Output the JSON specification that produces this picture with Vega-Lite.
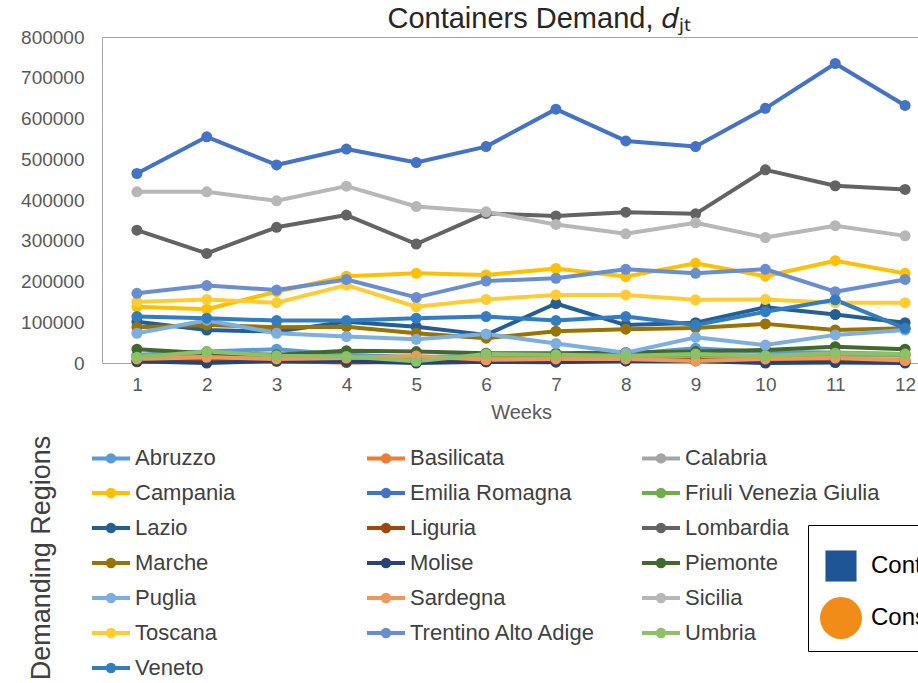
{
  "$schema": "https://vega.github.io/schema/vega-lite/v6.json",
  "width": 838,
  "height": 326,
  "autosize": {"type": "none"},
  "padding": {"left": 102, "top": 37, "right": 0, "bottom": 320},
  "background": "white",
  "config": {"font": "Liberation Sans", "view": {"stroke": "#A6A6A6", "strokeWidth": 1}},
  "title": {"text": "Containers Demand, 𝑑ⱼₜ", "fontSize": 29, "fontWeight": "normal", "color": "#262626", "offset": -6, "dx": 18},
  "datasets": {
    "demand": [
      {"region": "Abruzzo", "week": 1, "value": 20000}, {"region": "Abruzzo", "week": 2, "value": 28000}, {"region": "Abruzzo", "week": 3, "value": 34000}, {"region": "Abruzzo", "week": 4, "value": 20000}, {"region": "Abruzzo", "week": 5, "value": 15000}, {"region": "Abruzzo", "week": 6, "value": 18000}, {"region": "Abruzzo", "week": 7, "value": 15000}, {"region": "Abruzzo", "week": 8, "value": 22000}, {"region": "Abruzzo", "week": 9, "value": 36000}, {"region": "Abruzzo", "week": 10, "value": 27000}, {"region": "Abruzzo", "week": 11, "value": 26000}, {"region": "Abruzzo", "week": 12, "value": 22000},
      {"region": "Basilicata", "week": 1, "value": 6000}, {"region": "Basilicata", "week": 2, "value": 10000}, {"region": "Basilicata", "week": 3, "value": 8000}, {"region": "Basilicata", "week": 4, "value": 8000}, {"region": "Basilicata", "week": 5, "value": 8000}, {"region": "Basilicata", "week": 6, "value": 6000}, {"region": "Basilicata", "week": 7, "value": 8000}, {"region": "Basilicata", "week": 8, "value": 8000}, {"region": "Basilicata", "week": 9, "value": 10000}, {"region": "Basilicata", "week": 10, "value": 8000}, {"region": "Basilicata", "week": 11, "value": 10000}, {"region": "Basilicata", "week": 12, "value": 8000},
      {"region": "Calabria", "week": 1, "value": 18000}, {"region": "Calabria", "week": 2, "value": 22000}, {"region": "Calabria", "week": 3, "value": 15000}, {"region": "Calabria", "week": 4, "value": 15000}, {"region": "Calabria", "week": 5, "value": 10000}, {"region": "Calabria", "week": 6, "value": 18000}, {"region": "Calabria", "week": 7, "value": 17000}, {"region": "Calabria", "week": 8, "value": 15000}, {"region": "Calabria", "week": 9, "value": 18000}, {"region": "Calabria", "week": 10, "value": 15000}, {"region": "Calabria", "week": 11, "value": 20000}, {"region": "Calabria", "week": 12, "value": 18000},
      {"region": "Campania", "week": 1, "value": 138000}, {"region": "Campania", "week": 2, "value": 132000}, {"region": "Campania", "week": 3, "value": 175000}, {"region": "Campania", "week": 4, "value": 213000}, {"region": "Campania", "week": 5, "value": 220000}, {"region": "Campania", "week": 6, "value": 216000}, {"region": "Campania", "week": 7, "value": 232000}, {"region": "Campania", "week": 8, "value": 212000}, {"region": "Campania", "week": 9, "value": 245000}, {"region": "Campania", "week": 10, "value": 213000}, {"region": "Campania", "week": 11, "value": 251000}, {"region": "Campania", "week": 12, "value": 220000},
      {"region": "Emilia Romagna", "week": 1, "value": 465000}, {"region": "Emilia Romagna", "week": 2, "value": 555000}, {"region": "Emilia Romagna", "week": 3, "value": 486000}, {"region": "Emilia Romagna", "week": 4, "value": 525000}, {"region": "Emilia Romagna", "week": 5, "value": 492000}, {"region": "Emilia Romagna", "week": 6, "value": 531000}, {"region": "Emilia Romagna", "week": 7, "value": 623000}, {"region": "Emilia Romagna", "week": 8, "value": 545000}, {"region": "Emilia Romagna", "week": 9, "value": 531000}, {"region": "Emilia Romagna", "week": 10, "value": 625000}, {"region": "Emilia Romagna", "week": 11, "value": 735000}, {"region": "Emilia Romagna", "week": 12, "value": 632000},
      {"region": "Friuli Venezia Giulia", "week": 1, "value": 16000}, {"region": "Friuli Venezia Giulia", "week": 2, "value": 25000}, {"region": "Friuli Venezia Giulia", "week": 3, "value": 16000}, {"region": "Friuli Venezia Giulia", "week": 4, "value": 14000}, {"region": "Friuli Venezia Giulia", "week": 5, "value": 6000}, {"region": "Friuli Venezia Giulia", "week": 6, "value": 20000}, {"region": "Friuli Venezia Giulia", "week": 7, "value": 18000}, {"region": "Friuli Venezia Giulia", "week": 8, "value": 17000}, {"region": "Friuli Venezia Giulia", "week": 9, "value": 20000}, {"region": "Friuli Venezia Giulia", "week": 10, "value": 17000}, {"region": "Friuli Venezia Giulia", "week": 11, "value": 22000}, {"region": "Friuli Venezia Giulia", "week": 12, "value": 20000},
      {"region": "Lazio", "week": 1, "value": 101000}, {"region": "Lazio", "week": 2, "value": 81000}, {"region": "Lazio", "week": 3, "value": 77000}, {"region": "Lazio", "week": 4, "value": 101000}, {"region": "Lazio", "week": 5, "value": 89000}, {"region": "Lazio", "week": 6, "value": 69000}, {"region": "Lazio", "week": 7, "value": 146000}, {"region": "Lazio", "week": 8, "value": 93000}, {"region": "Lazio", "week": 9, "value": 99000}, {"region": "Lazio", "week": 10, "value": 137000}, {"region": "Lazio", "week": 11, "value": 119000}, {"region": "Lazio", "week": 12, "value": 99000},
      {"region": "Liguria", "week": 1, "value": 3000}, {"region": "Liguria", "week": 2, "value": 6000}, {"region": "Liguria", "week": 3, "value": 4000}, {"region": "Liguria", "week": 4, "value": 1000}, {"region": "Liguria", "week": 5, "value": 3000}, {"region": "Liguria", "week": 6, "value": 3000}, {"region": "Liguria", "week": 7, "value": 5000}, {"region": "Liguria", "week": 8, "value": 5000}, {"region": "Liguria", "week": 9, "value": 8000}, {"region": "Liguria", "week": 10, "value": 3000}, {"region": "Liguria", "week": 11, "value": 8000}, {"region": "Liguria", "week": 12, "value": 4000},
      {"region": "Lombardia", "week": 1, "value": 326000}, {"region": "Lombardia", "week": 2, "value": 269000}, {"region": "Lombardia", "week": 3, "value": 333000}, {"region": "Lombardia", "week": 4, "value": 363000}, {"region": "Lombardia", "week": 5, "value": 292000}, {"region": "Lombardia", "week": 6, "value": 367000}, {"region": "Lombardia", "week": 7, "value": 361000}, {"region": "Lombardia", "week": 8, "value": 370000}, {"region": "Lombardia", "week": 9, "value": 366000}, {"region": "Lombardia", "week": 10, "value": 474000}, {"region": "Lombardia", "week": 11, "value": 435000}, {"region": "Lombardia", "week": 12, "value": 426000},
      {"region": "Marche", "week": 1, "value": 88000}, {"region": "Marche", "week": 2, "value": 93000}, {"region": "Marche", "week": 3, "value": 88000}, {"region": "Marche", "week": 4, "value": 89000}, {"region": "Marche", "week": 5, "value": 73000}, {"region": "Marche", "week": 6, "value": 61000}, {"region": "Marche", "week": 7, "value": 78000}, {"region": "Marche", "week": 8, "value": 83000}, {"region": "Marche", "week": 9, "value": 86000}, {"region": "Marche", "week": 10, "value": 96000}, {"region": "Marche", "week": 11, "value": 81000}, {"region": "Marche", "week": 12, "value": 85000},
      {"region": "Molise", "week": 1, "value": 4000}, {"region": "Molise", "week": 2, "value": 0}, {"region": "Molise", "week": 3, "value": 5000}, {"region": "Molise", "week": 4, "value": 4000}, {"region": "Molise", "week": 5, "value": 0}, {"region": "Molise", "week": 6, "value": 3000}, {"region": "Molise", "week": 7, "value": 2000}, {"region": "Molise", "week": 8, "value": 5000}, {"region": "Molise", "week": 9, "value": 5000}, {"region": "Molise", "week": 10, "value": 0}, {"region": "Molise", "week": 11, "value": 1000}, {"region": "Molise", "week": 12, "value": 0},
      {"region": "Piemonte", "week": 1, "value": 34000}, {"region": "Piemonte", "week": 2, "value": 24000}, {"region": "Piemonte", "week": 3, "value": 20000}, {"region": "Piemonte", "week": 4, "value": 30000}, {"region": "Piemonte", "week": 5, "value": 28000}, {"region": "Piemonte", "week": 6, "value": 24000}, {"region": "Piemonte", "week": 7, "value": 24000}, {"region": "Piemonte", "week": 8, "value": 26000}, {"region": "Piemonte", "week": 9, "value": 28000}, {"region": "Piemonte", "week": 10, "value": 32000}, {"region": "Piemonte", "week": 11, "value": 40000}, {"region": "Piemonte", "week": 12, "value": 34000},
      {"region": "Puglia", "week": 1, "value": 73000}, {"region": "Puglia", "week": 2, "value": 105000}, {"region": "Puglia", "week": 3, "value": 73000}, {"region": "Puglia", "week": 4, "value": 65000}, {"region": "Puglia", "week": 5, "value": 58000}, {"region": "Puglia", "week": 6, "value": 71000}, {"region": "Puglia", "week": 7, "value": 48000}, {"region": "Puglia", "week": 8, "value": 25000}, {"region": "Puglia", "week": 9, "value": 63000}, {"region": "Puglia", "week": 10, "value": 44000}, {"region": "Puglia", "week": 11, "value": 69000}, {"region": "Puglia", "week": 12, "value": 81000},
      {"region": "Sardegna", "week": 1, "value": 10000}, {"region": "Sardegna", "week": 2, "value": 14000}, {"region": "Sardegna", "week": 3, "value": 10000}, {"region": "Sardegna", "week": 4, "value": 12000}, {"region": "Sardegna", "week": 5, "value": 17000}, {"region": "Sardegna", "week": 6, "value": 8000}, {"region": "Sardegna", "week": 7, "value": 10000}, {"region": "Sardegna", "week": 8, "value": 10000}, {"region": "Sardegna", "week": 9, "value": 5000}, {"region": "Sardegna", "week": 10, "value": 10000}, {"region": "Sardegna", "week": 11, "value": 12000}, {"region": "Sardegna", "week": 12, "value": 6000},
      {"region": "Sicilia", "week": 1, "value": 420000}, {"region": "Sicilia", "week": 2, "value": 420000}, {"region": "Sicilia", "week": 3, "value": 398000}, {"region": "Sicilia", "week": 4, "value": 434000}, {"region": "Sicilia", "week": 5, "value": 384000}, {"region": "Sicilia", "week": 6, "value": 371000}, {"region": "Sicilia", "week": 7, "value": 340000}, {"region": "Sicilia", "week": 8, "value": 317000}, {"region": "Sicilia", "week": 9, "value": 344000}, {"region": "Sicilia", "week": 10, "value": 308000}, {"region": "Sicilia", "week": 11, "value": 337000}, {"region": "Sicilia", "week": 12, "value": 312000},
      {"region": "Toscana", "week": 1, "value": 150000}, {"region": "Toscana", "week": 2, "value": 156000}, {"region": "Toscana", "week": 3, "value": 148000}, {"region": "Toscana", "week": 4, "value": 191000}, {"region": "Toscana", "week": 5, "value": 138000}, {"region": "Toscana", "week": 6, "value": 156000}, {"region": "Toscana", "week": 7, "value": 167000}, {"region": "Toscana", "week": 8, "value": 167000}, {"region": "Toscana", "week": 9, "value": 155000}, {"region": "Toscana", "week": 10, "value": 156000}, {"region": "Toscana", "week": 11, "value": 148000}, {"region": "Toscana", "week": 12, "value": 148000},
      {"region": "Trentino Alto Adige", "week": 1, "value": 171000}, {"region": "Trentino Alto Adige", "week": 2, "value": 190000}, {"region": "Trentino Alto Adige", "week": 3, "value": 179000}, {"region": "Trentino Alto Adige", "week": 4, "value": 205000}, {"region": "Trentino Alto Adige", "week": 5, "value": 161000}, {"region": "Trentino Alto Adige", "week": 6, "value": 201000}, {"region": "Trentino Alto Adige", "week": 7, "value": 208000}, {"region": "Trentino Alto Adige", "week": 8, "value": 230000}, {"region": "Trentino Alto Adige", "week": 9, "value": 220000}, {"region": "Trentino Alto Adige", "week": 10, "value": 230000}, {"region": "Trentino Alto Adige", "week": 11, "value": 175000}, {"region": "Trentino Alto Adige", "week": 12, "value": 205000},
      {"region": "Umbria", "week": 1, "value": 14000}, {"region": "Umbria", "week": 2, "value": 28000}, {"region": "Umbria", "week": 3, "value": 18000}, {"region": "Umbria", "week": 4, "value": 16000}, {"region": "Umbria", "week": 5, "value": 4000}, {"region": "Umbria", "week": 6, "value": 22000}, {"region": "Umbria", "week": 7, "value": 20000}, {"region": "Umbria", "week": 8, "value": 18000}, {"region": "Umbria", "week": 9, "value": 22000}, {"region": "Umbria", "week": 10, "value": 18000}, {"region": "Umbria", "week": 11, "value": 24000}, {"region": "Umbria", "week": 12, "value": 22000},
      {"region": "Veneto", "week": 1, "value": 114000}, {"region": "Veneto", "week": 2, "value": 110000}, {"region": "Veneto", "week": 3, "value": 104000}, {"region": "Veneto", "week": 4, "value": 104000}, {"region": "Veneto", "week": 5, "value": 110000}, {"region": "Veneto", "week": 6, "value": 114000}, {"region": "Veneto", "week": 7, "value": 104000}, {"region": "Veneto", "week": 8, "value": 114000}, {"region": "Veneto", "week": 9, "value": 93000}, {"region": "Veneto", "week": 10, "value": 126000}, {"region": "Veneto", "week": 11, "value": 155000}, {"region": "Veneto", "week": 12, "value": 85000}
    ],
    "nodes": [
      {"kind": "Container terminals", "week": 1, "value": 0},
      {"kind": "Consolidation centers", "week": 1, "value": 0}
    ]
  },
  "encoding": {
    "x": {"field": "week", "type": "ordinal", "scale": {"type": "point", "padding": 0.5},
      "axis": {"title": "Weeks", "titleFontSize": 20, "titleFontWeight": "normal", "titleColor": "#595959", "labelFontSize": 19, "labelColor": "#595959", "labelAngle": 0, "ticks": false, "domain": false, "grid": false, "labelPadding": 12, "titlePadding": 8}},
    "y": {"field": "value", "type": "quantitative", "scale": {"domain": [0, 800000], "nice": false, "zero": true},
      "axis": {"title": null, "values": [0, 100000, 200000, 300000, 400000, 500000, 600000, 700000, 800000], "format": "d", "labelFontSize": 19, "labelColor": "#595959", "ticks": false, "domain": false, "grid": false, "labelPadding": 18}}
  },
  "layer": [
    {
      "data": {"name": "demand"},
      "mark": {"type": "line", "strokeWidth": 4, "strokeJoin": "round", "strokeCap": "round", "point": {"filled": true, "size": 121, "opacity": 1}},
      "encoding": {
        "color": {"field": "region", "type": "nominal",
          "scale": {
            "domain": ["Abruzzo", "Basilicata", "Calabria", "Campania", "Emilia Romagna", "Friuli Venezia Giulia", "Lazio", "Liguria", "Lombardia", "Marche", "Molise", "Piemonte", "Puglia", "Sardegna", "Sicilia", "Toscana", "Trentino Alto Adige", "Umbria", "Veneto"],
            "range": ["#5B9BD5", "#ED7D31", "#A5A5A5", "#FFC000", "#4472C4", "#70AD47", "#255E91", "#9E480E", "#636363", "#997300", "#264478", "#43682B", "#7CAFDD", "#F1975A", "#B7B7B7", "#FFCD33", "#698ED0", "#8CC168", "#327DC2"]
          },
          "legend": {
            "orient": "none", "legendX": -74, "legendY": 400, "direction": "horizontal",
            "title": "Demanding Regions", "titleOrient": "left", "titleAnchor": "middle", "titleLimit": 400, "titleFontSize": 27, "titleFontWeight": "normal", "titleColor": "#404040", "titlePadding": 20,
            "columns": 3, "gridAlign": "all", "columnPadding": 29, "rowPadding": 2,
            "labelFontSize": 22, "labelColor": "#404040", "labelOffset": 3, "labelLimit": 400,
            "symbolType": "M-1,0L1,0M0.17,0A0.17,0.17,0,1,1,-0.17,0A0.17,0.17,0,1,1,0.17,0Z",
            "symbolSize": 1444, "symbolStrokeWidth": 4, "padding": 0,
            "encoding": {"title": {"angle": {"value": 270}, "align": {"value": "center"}}}
          }
        }
      }
    },
    {
      "data": {"name": "nodes"},
      "mark": {"type": "point", "filled": true, "opacity": 0},
      "encoding": {
        "shape": {"field": "kind", "type": "nominal", "scale": {"domain": ["Container terminals", "Consolidation centers"], "range": ["M-0.74,-0.74H0.74V0.74H-0.74Z", "circle"]},
          "legend": {"orient": "none", "legendX": 706, "legendY": 488, "title": " ", "titleFontSize": 8, "titlePadding": 0, "titleOrient": "top", "strokeColor": "black", "fillColor": "white", "padding": 12, "labelFontSize": 24, "labelColor": "black", "rowPadding": 15, "labelOffset": 9, "symbolOpacity": 1, "symbolStrokeWidth": 0, "symbolSize": 1764}},
        "fill": {"field": "kind", "type": "nominal", "scale": {"domain": ["Container terminals", "Consolidation centers"], "range": ["#1F5596", "#F28C18"]},
          "legend": {"orient": "none", "legendX": 706, "legendY": 488, "title": " ", "titleFontSize": 8, "titlePadding": 0, "titleOrient": "top", "strokeColor": "black", "fillColor": "white", "padding": 12, "labelFontSize": 24, "labelColor": "black", "rowPadding": 15, "labelOffset": 9, "symbolOpacity": 1, "symbolStrokeWidth": 0, "symbolSize": 1764}}
      }
    }
  ]
}
